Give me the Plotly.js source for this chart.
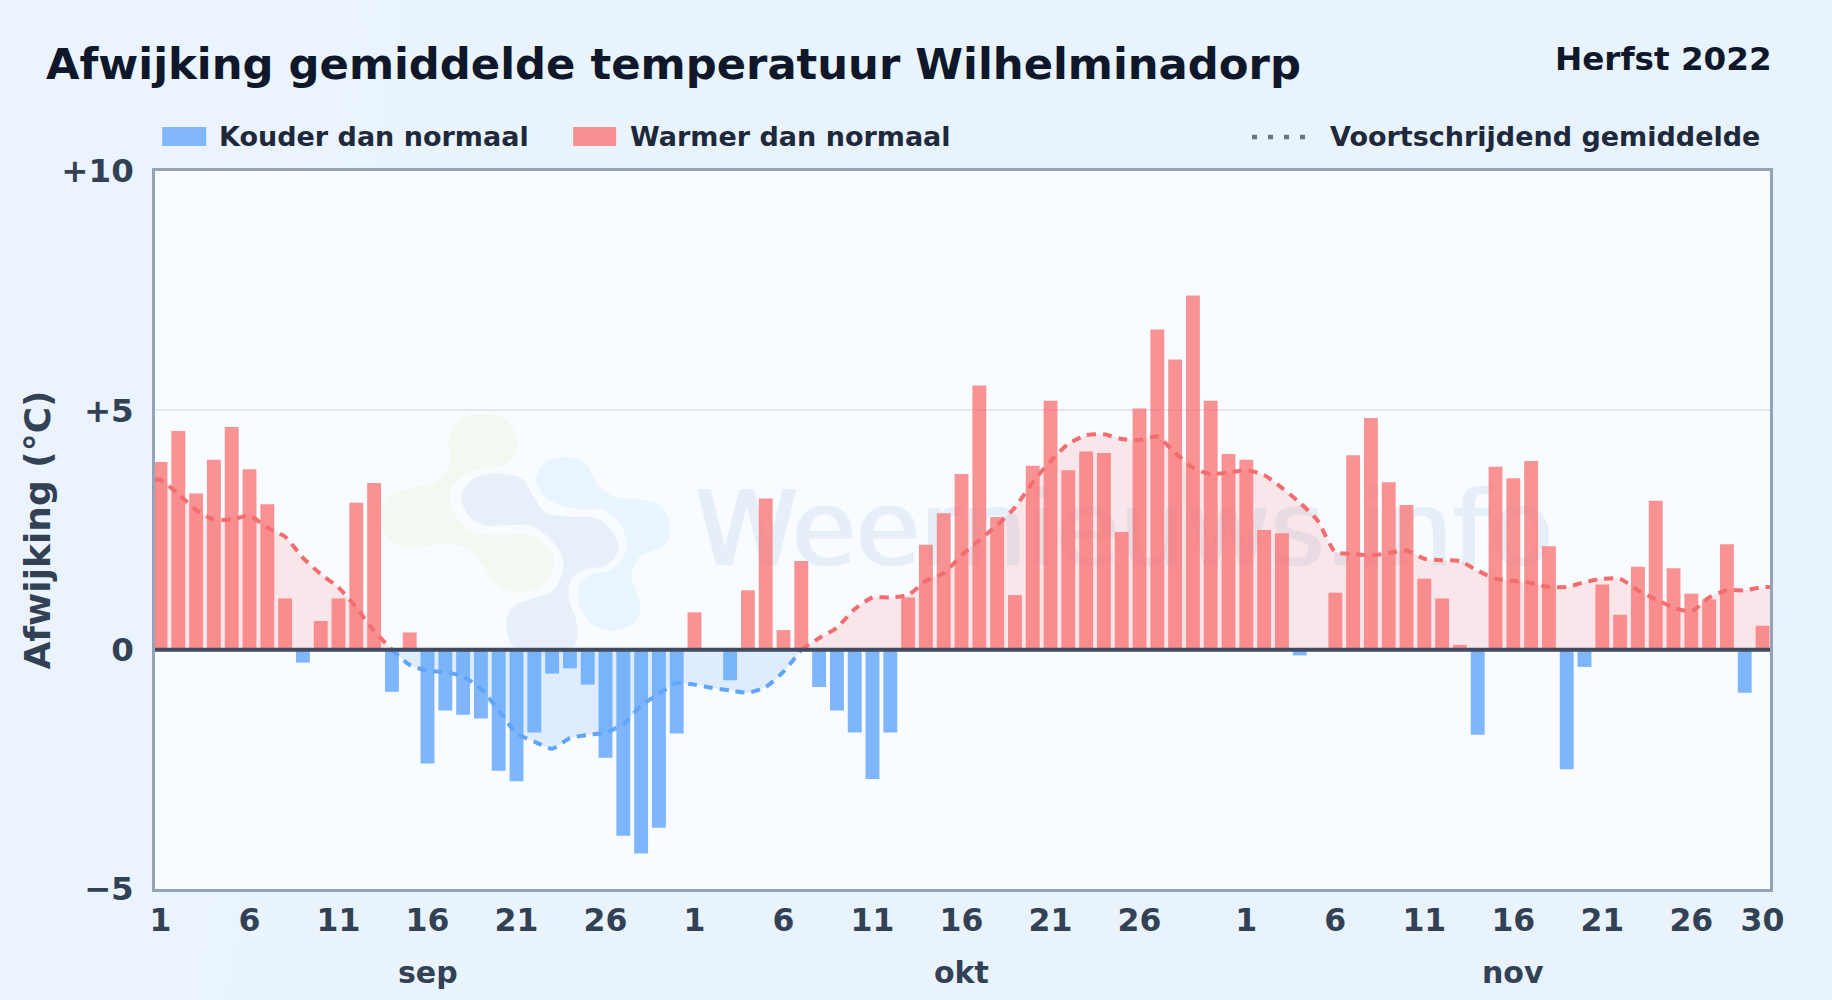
<!DOCTYPE html>
<html>
<head>
<meta charset="utf-8">
<script src="https://cdn.plot.ly/plotly-3.0.1.min.js"></script>
<style>
html,body{margin:0;padding:0;background:linear-gradient(100deg,#ebf4fd 0%,#e8f3fc 60%,#e8f3fc 100%);}
#chart{width:1832px;height:1000px;}
</style>
</head>
<body>
<div id="chart"></div>
<script>
const monthNames = ['sep','okt','nov'];
const monthStarts = ['2022-09-','2022-10-','2022-11-'];
const monthLengths = [30,31,30];

const deviation = [
 3.92,4.57,3.26,3.97,4.65,3.77,3.04,1.07,-0.27,0.6,1.07,3.07,3.48,-0.88,0.36,-2.38,-1.27,-1.36,-1.44,-2.53,-2.75,-1.73,-0.5,-0.39,-0.73,-2.26,-3.89,-4.26,-3.72,-1.75,
 0.78,0,-0.64,1.24,3.16,0.41,1.85,-0.78,-1.27,-1.73,-2.7,-1.73,1.09,2.19,2.85,3.67,5.52,2.77,1.14,3.84,5.2,3.75,4.14,4.11,2.46,5.04,6.69,6.06,7.4,5.2,4.09,
 3.97,2.5,2.43,-0.12,0,1.19,4.06,4.84,3.5,3.02,1.48,1.07,0.1,-1.78,3.82,3.58,3.94,2.16,-2.5,-0.36,1.36,0.73,1.73,3.11,1.7,1.17,1.05,2.2,-0.9,0.5
];
const rolling = [
 3.55,3.25,2.92,2.72,2.72,2.8,2.55,2.36,1.92,1.58,1.3,0.88,0.39,0,-0.32,-0.44,-0.47,-0.56,-0.82,-1.27,-1.75,-1.92,-2.07,-1.85,-1.78,-1.73,-1.56,-1.17,-0.92,-0.7,
 -0.73,-0.8,-0.85,-0.9,-0.78,-0.46,0,0.24,0.46,0.85,1.09,1.09,1.14,1.44,1.6,1.97,2.29,2.6,2.97,3.5,3.94,4.3,4.48,4.5,4.4,4.38,4.45,4.11,3.8,3.67,3.7,
 3.75,3.65,3.38,3.07,2.7,2.04,2.0,1.97,2.02,2.07,1.9,1.87,1.85,1.65,1.48,1.44,1.39,1.31,1.31,1.41,1.48,1.48,1.24,1.05,0.88,0.8,1.09,1.24,1.24,1.31
];
const tickDays = [
 '2022-09-01','2022-09-06','2022-09-11','2022-09-16','2022-09-21','2022-09-26',
 '2022-10-01','2022-10-06','2022-10-11','2022-10-16','2022-10-21','2022-10-26',
 '2022-11-01','2022-11-06','2022-11-11','2022-11-16','2022-11-21','2022-11-26','2022-11-30'
];
const tickLabels = ['1','6','11','16','21','26','1','6','11','16','21','26','1','6','11','16','21','26','30'];
const yTicks = [-5,0,5,10];
const yLabels = ['\u22125','0','+5','+10'];

const dates = [];
monthLengths.forEach((n,m)=>{for(let d=1;d<=n;d++)dates.push(monthStarts[m]+String(d).padStart(2,'0'));});

const FONT = 'DejaVu Sans';
const L=154.8,R=1770,T=171,B=889;
const px = (x,y)=>[(x-L)/(R-L),(B-y)/(B-T)];
const xStart='2022-08-31 16:34', xEnd='2022-11-30 10:05';

function blob(points){
  const P = points.map(p=>[370+p[0]/3,390+p[1]/3]);
  const n=P.length;
  const f=p=>{const q=px(p[0],p[1]);return q[0].toFixed(5)+','+q[1].toFixed(5);};
  let d='M'+f(P[0]);
  for(let i=0;i<n;i++){
    const p0=P[(i-1+n)%n],p1=P[i],p2=P[(i+1)%n],p3=P[(i+2)%n];
    const c1=[p1[0]+(p2[0]-p0[0])/6,p1[1]+(p2[1]-p0[1])/6];
    const c2=[p2[0]-(p3[0]-p1[0])/6,p2[1]-(p3[1]-p1[1])/6];
    d+='C'+f(c1)+' '+f(c2)+' '+f(p2);
  }
  return d+'Z';
}
const blobGreen=[[237,140],[270,88],[330,72],[405,88],[442,150],[410,220],[300,245],[250,285],[240,330],[265,390],[320,430],[400,435],[480,435],[540,480],[550,530],[510,590],[440,607],[380,585],[340,530],[300,480],[220,460],[140,472],[70,460],[35,400],[50,320],[120,295],[200,275],[237,220]];
const blobMid=[[275,310],[320,260],[390,250],[460,270],[490,320],[530,370],[600,380],[680,385],[730,430],[745,480],[710,525],[640,540],[600,575],[598,630],[620,700],[610,770],[520,800],[430,770],[408,700],[430,650],[490,625],[550,600],[580,530],[560,470],[490,410],[420,405],[340,405],[290,370]];
const blobBlue=[[500,260],[530,215],[590,202],[650,225],[680,280],[730,320],[800,328],[870,345],[900,410],[880,465],[810,500],[785,560],[812,650],[790,700],[730,722],[670,705],[630,650],[625,590],[660,555],[730,535],[768,480],[755,410],[700,360],[600,355],[530,325],[505,290]];

const warmX=[],warmY=[],coldX=[],coldY=[];
deviation.forEach((v,i)=>{ if(v<0){coldX.push(dates[i]);coldY.push(v);} else {warmX.push(dates[i]);warmY.push(v);} });

// the rolling line runs on to both plot edges, holding its end values
const lineX=[xStart,...dates,xEnd];
const lineY=[rolling[0],...rolling,rolling[rolling.length-1]];

const barWidth = 0.78*864e5;
const traces = [
 {type:'bar',name:'Kouder dan normaal',x:coldX,y:coldY,width:barWidth,marker:{color:'rgba(96,165,250,0.8)',line:{width:0}},hoverinfo:'x+y'},
 {type:'bar',name:'Warmer dan normaal',x:warmX,y:warmY,width:barWidth,marker:{color:'rgba(248,113,113,0.76)',line:{width:0}},hoverinfo:'x+y'},
 {type:'scatter',mode:'lines',name:'Voortschrijdend gemiddelde (warm)',x:lineX,y:lineY.map(v=>v>=0?v:null),fill:'tozeroy',fillcolor:'rgba(248,113,113,0.15)',
  line:{color:'#f36c6e',width:4,dash:'9px,7px',shape:'spline',smoothing:0.6},connectgaps:false,hoverinfo:'x+y'},
 {type:'scatter',mode:'lines',name:'Voortschrijdend gemiddelde (koud)',x:lineX,y:lineY.map(v=>v<=0?v:null),fill:'tozeroy',fillcolor:'rgba(96,165,250,0.17)',
  line:{color:'#60a5fa',width:4,dash:'9px,7px',shape:'spline',smoothing:0.6},connectgaps:false,hoverinfo:'x+y'}
];

function txt(text,x,y,size,color,anchor){
  const p=px(x,y);
  return {text,x:p[0],y:p[1],xref:'paper',yref:'paper',xanchor:anchor||'left',yanchor:'middle',showarrow:false,
    font:{family:FONT,size,color,weight:700}};
}
function rect(x0,y0,x1,y1,color){
  const a=px(x0,y0),b=px(x1,y1);
  return {type:'rect',xref:'paper',yref:'paper',x0:a[0],y0:a[1],x1:b[0],y1:b[1],fillcolor:color,line:{width:0},layer:'above'};
}
const dotA=px(1252,137),dotB=px(1310,137);
const wmA=px(696,484),wmB=px(1552,560);

const layout = {
  width:1832,height:1000,
  margin:{l:L,r:1832-R,t:T,b:1000-B,pad:0},
  paper_bgcolor:'rgba(0,0,0,0)',plot_bgcolor:'#f8fbff',
  showlegend:false,barmode:'overlay',
  title:{text:'Afwijking gemiddelde temperatuur Wilhelminadorp',x:46/1832,xanchor:'left',xref:'container',y:1-64/1000,yanchor:'middle',
    font:{family:FONT,size:43.3,weight:700,color:'#0f172a'}},
  xaxis:{type:'date',range:[xStart,xEnd],tickmode:'array',tickvals:tickDays,ticktext:tickLabels,
    tickfont:{family:FONT,size:31.5,weight:700,color:'#334155'},ticks:'',ticklabelstandoff:1,showgrid:false,zeroline:false,
    showline:true,mirror:true,linecolor:'#94a3b8',linewidth:2.5,automargin:false},
  yaxis:{range:[-5,10],tickmode:'array',tickvals:yTicks,ticktext:yLabels,
    tickfont:{family:FONT,size:32.5,weight:700,color:'#334155'},ticks:'',ticklabelstandoff:12,
    showgrid:true,gridcolor:'#e2e8f0',gridwidth:2,zeroline:false,
    showline:true,mirror:true,linecolor:'#94a3b8',linewidth:2.5,automargin:false,
    title:{text:'Afwijking (°C)',standoff:0,font:{family:FONT,size:36,weight:700,color:'#334155'}}},
  shapes:[
    {type:'path',path:blob(blobGreen),xref:'paper',yref:'paper',fillcolor:'#f3f9f0',line:{width:0},layer:'below'},
    {type:'path',path:blob(blobMid),xref:'paper',yref:'paper',fillcolor:'#e7f0f9',line:{width:0},layer:'below'},
    {type:'path',path:blob(blobBlue),xref:'paper',yref:'paper',fillcolor:'#e8f5fe',line:{width:0},layer:'below'},
    {type:'rect',xref:'paper',yref:'paper',x0:wmA[0],y0:wmA[1],x1:wmB[0],y1:wmB[1],fillcolor:'rgba(0,0,0,0)',line:{width:0},layer:'below',
      label:{text:'Weernieuws.info',textposition:'middle center',font:{family:FONT,size:104,color:'#e6eef8',shadow:'1.5px 0 0 #e6eef8, -1.5px 0 0 #e6eef8'}}},
    {type:'line',xref:'paper',x0:0,x1:1,yref:'y',y0:0,y1:0,line:{color:'#3f4b5e',width:4},layer:'above'},
    rect(162,127,206,146,'#82b7fb'),
    rect(573,127,616,146,'#f79092'),
    {type:'line',xref:'paper',yref:'paper',x0:dotA[0],y0:dotA[1],x1:dotB[0],y1:dotB[1],line:{color:'#64748b',width:4.5,dash:'5px,11px'},layer:'above'}
  ],
  annotations:[
    txt('Herfst 2022',1774.5,59,32.6,'#0f172a','right'),
    txt('Kouder dan normaal',217,136.5,27,'#1e293b'),
    txt('Warmer dan normaal',628,136.5,27,'#1e293b'),
    txt('Voortschrijdend gemiddelde',1328,136.5,27,'#1e293b'),
    ...monthNames.map((m,i)=>({text:m,x:monthStarts[i]+'16',xref:'x',y:0,yref:'paper',yanchor:'middle',xanchor:'center',yshift:-83,showarrow:false,
      font:{family:FONT,size:30,weight:700,color:'#334155'}}))
  ]
};
Plotly.newPlot('chart',traces,layout,{displayModeBar:false,responsive:false});
</script>
</body>
</html>
